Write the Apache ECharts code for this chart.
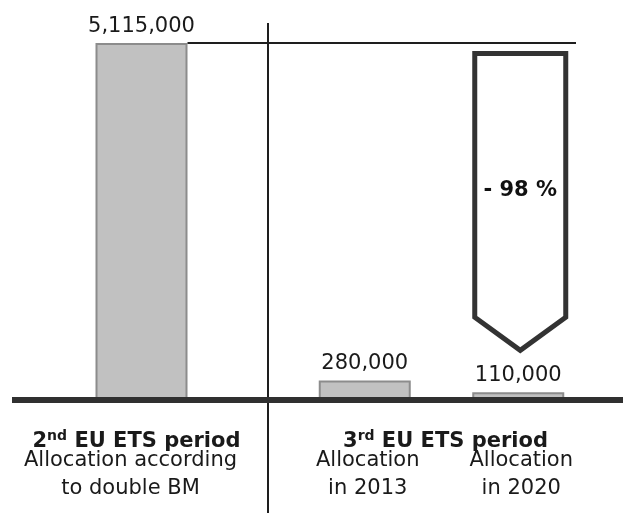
<!DOCTYPE html>
<html>
<head>
<meta charset="utf-8">
<script src="https://cdn.jsdelivr.net/npm/echarts@6/dist/echarts.min.js"></script>
<style>
  html, body { margin: 0; padding: 0; background: #ffffff; }
  #chart { width: 623px; height: 513px; }
</style>
</head>
<body>
<div id="chart"></div>
<script>
// Free allocation per period
const secondPeriodCategories = ['Allocation according\nto double BM'];
const secondPeriodValues = [5115000];
const thirdPeriodCategories = ['Allocation\nin 2013', 'Allocation\nin 2020'];
const thirdPeriodValues = [280000, 110000];

const FONT = '"DejaVu Sans", "Liberation Sans", Arial, sans-serif';
const TEXT = '#1a1a1a';
const BAR_W = 92;
const MAX_V = 5115000;

const dropFrom = secondPeriodValues[0];
const dropTo = thirdPeriodValues[1];
const dropPct = Math.round((dropTo - dropFrom) / dropFrom * 100);
const dropText = (dropPct < 0 ? '- ' : '+ ') + Math.abs(dropPct) + ' %';

const fmt = v => Number(v).toLocaleString('en-US');

const headingRich = {
  n: { fontFamily: FONT, fontSize: 21, fontWeight: 'bold', color: TEXT, lineHeight: 26 },
  s: { fontFamily: FONT, fontSize: 14, fontWeight: 'bold', color: TEXT, lineHeight: 14, verticalAlign: 'top' }
};

const barStyle = { color: '#c1c1c1', borderColor: '#8c8c8c', borderWidth: 2 };
const valueLabel = {
  show: true, position: 'top', distance: 6,
  fontFamily: FONT, fontSize: 21, lineHeight: 21, color: TEXT,
  formatter: p => fmt(p.value)
};

function axisX(gridIndex, data, name, labelPad, namePad) {
  return {
    type: 'category', gridIndex, data,
    axisLine: { show: false }, axisTick: { show: false }, splitLine: { show: false },
    axisLabel: {
      interval: 0, margin: 47, fontFamily: FONT, fontSize: 21, lineHeight: 28,
      color: TEXT, padding: labelPad
    },
    name, nameLocation: 'middle', nameGap: 29, nameMoveOverlap: false,
    nameTextStyle: { rich: headingRich, padding: namePad }
  };
}

function axisY(gridIndex) {
  return {
    type: 'value', gridIndex, min: 0, max: MAX_V, show: false,
    splitLine: { show: false }
  };
}

const chart = echarts.init(document.getElementById('chart'), null, { renderer: 'canvas' });

chart.setOption({
  animation: false,
  backgroundColor: '#ffffff',
  grid: [
    { left: 12, width: 259, top: 43, bottom: 113, outerBoundsMode: 'none', containLabel: false },
    { left: 288, width: 307, top: 43, bottom: 113, outerBoundsMode: 'none', containLabel: false }
  ],
  xAxis: [
    axisX(0, secondPeriodCategories, '{n|2}{s|nd}{n| EU ETS period}', [0, 22, 0, 0], [0, 10, 0, 0]),
    axisX(1, thirdPeriodCategories, '{n|3}{s|rd}{n| EU ETS period}', [0, 0, 0, 6], [0, 0, 0, 8])
  ],
  yAxis: [axisY(0), axisY(1)],
  series: [
    {
      type: 'bar', xAxisIndex: 0, yAxisIndex: 0, barWidth: BAR_W,
      data: secondPeriodValues, itemStyle: barStyle, label: valueLabel, z: 2
    },
    {
      type: 'bar', xAxisIndex: 1, yAxisIndex: 1, barWidth: BAR_W,
      data: thirdPeriodValues, itemStyle: barStyle, label: valueLabel, z: 2
    },
    {
      // Reduction arrow from the 2nd-period level down to the 2020 allocation
      type: 'custom', xAxisIndex: 1, yAxisIndex: 1, z: 3, silent: true,
      data: [[1, dropFrom, dropTo]],
      renderItem: (params, api) => {
        const cx = api.coord([api.value(0), 0])[0] + 2;
        const top = api.coord([api.value(0), api.value(1)])[1] + 10.5;
        const tip = api.coord([api.value(0), api.value(2)])[1] - 42;
        const corner = tip - 33;
        const half = 45.5;
        return {
          type: 'group',
          children: [
            {
              type: 'polygon',
              shape: { points: [
                [cx - half, top], [cx + half, top], [cx + half, corner],
                [cx, tip], [cx - half, corner]
              ] },
              style: { fill: '#ffffff', stroke: '#333333', lineWidth: 5, lineJoin: 'miter' }
            },
            {
              type: 'text',
              style: {
                x: cx, y: (top + corner) / 2 + 5, text: dropText,
                fontFamily: FONT, fontSize: 21, fontWeight: 'bold', fill: '#111111',
                align: 'center', verticalAlign: 'middle'
              }
            }
          ]
        };
      }
    }
  ]
});

// Reference lines: baseline, 2nd-period level, and the divider between periods
const y0 = chart.convertToPixel({ yAxisIndex: 0 }, 0);
const yMax = chart.convertToPixel({ yAxisIndex: 0 }, dropFrom);
const bar1X = chart.convertToPixel({ xAxisIndex: 0 }, 0);

chart.setOption({
  graphic: [
    {
      type: 'line', z: 10, silent: true,
      shape: { x1: bar1X + BAR_W / 2, y1: yMax, x2: 576, y2: yMax },
      style: { stroke: '#1e1e1e', lineWidth: 2 }
    },
    {
      type: 'line', z: 10, silent: true,
      shape: { x1: 268, y1: 23, x2: 268, y2: 513 },
      style: { stroke: '#1e1e1e', lineWidth: 2 }
    },
    {
      type: 'line', z: 10, silent: true,
      shape: { x1: 12, y1: y0, x2: 623, y2: y0 },
      style: { stroke: '#303030', lineWidth: 6 }
    }
  ]
});
</script>
</body>
</html>
